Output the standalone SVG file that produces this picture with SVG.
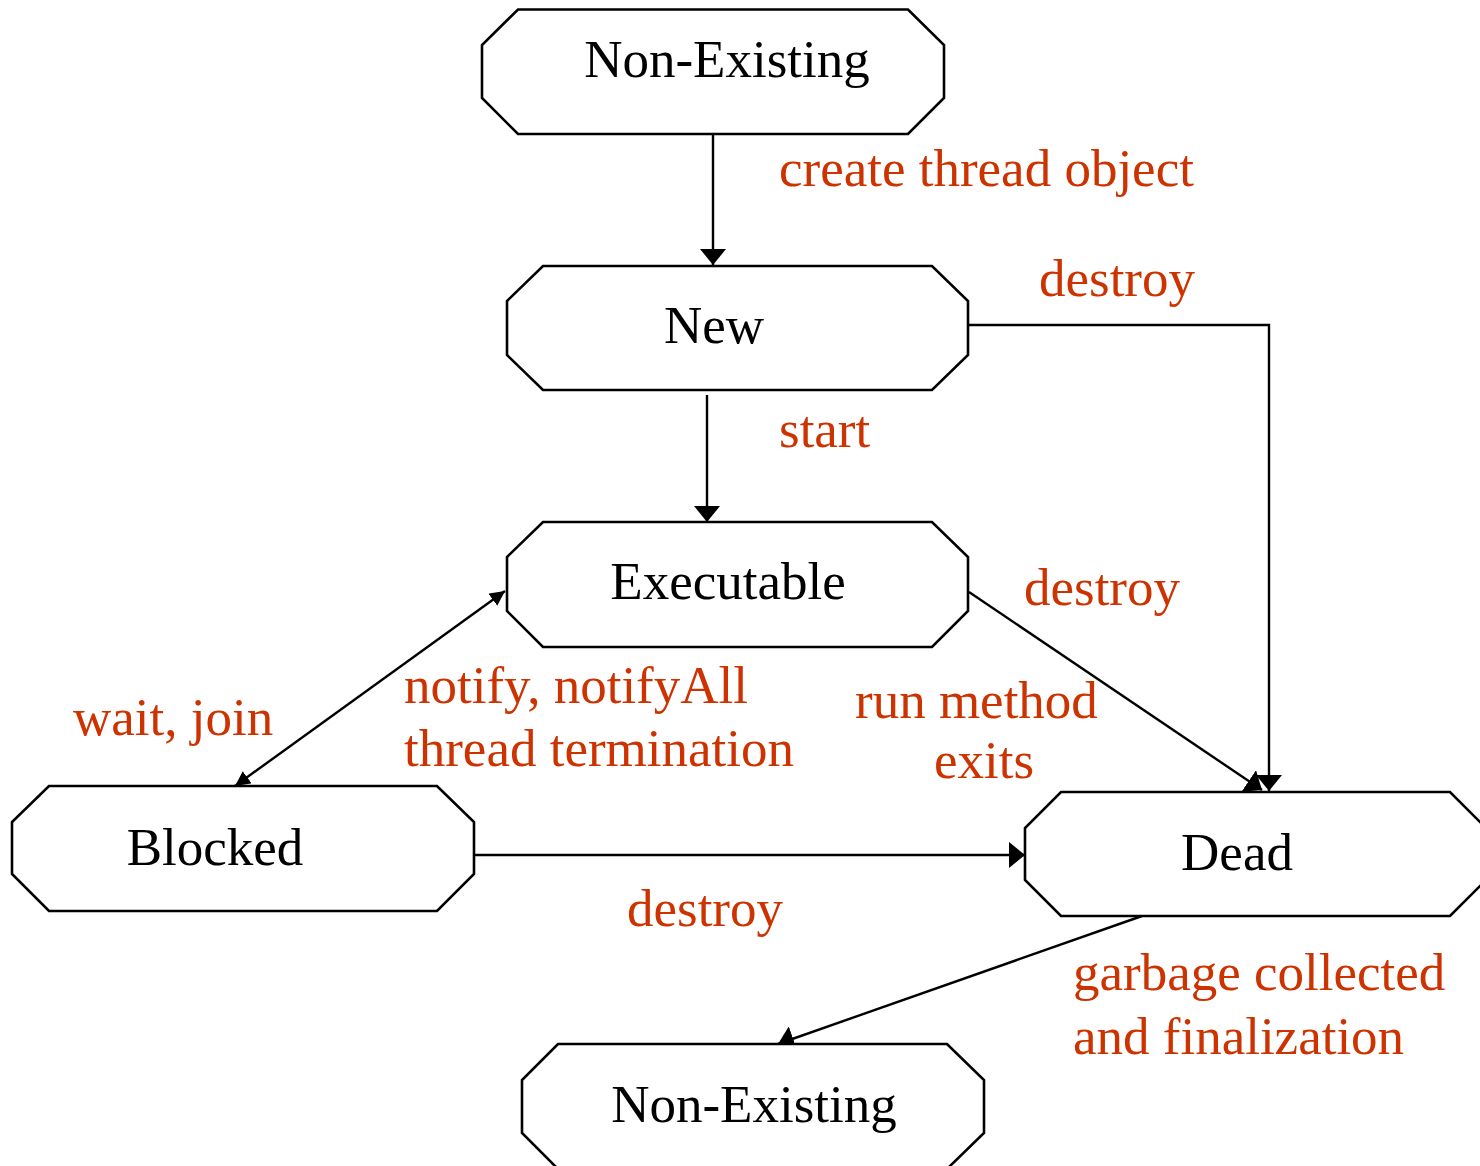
<svg xmlns="http://www.w3.org/2000/svg" width="1480" height="1166" viewBox="0 0 1480 1166">
<style>
.node{fill:#fff;stroke:#000;stroke-width:2.6;stroke-linejoin:miter}
.nt{font-family:"Liberation Serif","Times New Roman",serif;font-size:53px;fill:#000;text-anchor:middle}
.lb{font-family:"Liberation Serif","Times New Roman",serif;font-size:53px;fill:#CC3300}
.ln{fill:none;stroke:#000;stroke-width:2.4}
</style>
<defs>
<marker id="big" markerUnits="userSpaceOnUse" markerWidth="18" markerHeight="26" refX="16" refY="13" orient="auto" viewBox="0 0 18 26">
<path d="M0,0 L16,13 L0,26 z" fill="#000"/>
</marker>
<marker id="sm" markerUnits="userSpaceOnUse" markerWidth="16" markerHeight="15" refX="15" refY="7.5" orient="auto" viewBox="0 0 16 15">
<path d="M0,0 L15,7.5 L0,15 z" fill="#000"/>
</marker>
<marker id="smr" markerUnits="userSpaceOnUse" markerWidth="16" markerHeight="15" refX="15" refY="7.5" orient="auto-start-reverse" viewBox="0 0 16 15">
<path d="M0,0 L15,7.5 L0,15 z" fill="#000"/>
</marker>
</defs>

<g id="connectors">
<line class="ln" x1="713" y1="134" x2="713" y2="265" marker-end="url(#big)"/>
<line class="ln" x1="707" y1="395" x2="707" y2="522" marker-end="url(#big)"/>
<polyline class="ln" points="963,325 1269,325 1269,791" marker-end="url(#big)"/>
<line class="ln" x1="969" y1="592" x2="1262" y2="790" marker-end="url(#big)"/>
<line class="ln" x1="505" y1="591" x2="235" y2="786" marker-start="url(#smr)" marker-end="url(#sm)"/>
<line class="ln" x1="472" y1="855" x2="1025" y2="855" marker-end="url(#big)"/>
<line class="ln" x1="1142" y1="916" x2="778" y2="1044" marker-end="url(#big)"/>
</g>

<g id="node-nonexisting-top">
<polygon class="node" points="518,9.5 908,9.5 944,45 944,98 908,134 518,134 482,98 482,45"/>
<text class="nt" x="727" y="77">Non-Existing</text>
</g>
<g id="node-new">
<polygon class="node" points="543,266 932,266 968,301 968,355 932,390 543,390 507,355 507,301"/>
<text class="nt" x="714" y="343">New</text>
</g>
<g id="node-executable">
<polygon class="node" points="543,522 932,522 968,557 968,611 932,647 543,647 507,611 507,557"/>
<text class="nt" x="728" y="599">Executable</text>
</g>
<g id="node-blocked">
<polygon class="node" points="49,786 437,786 474,822 474,874 437,911 49,911 12,874 12,822"/>
<text class="nt" x="215" y="865">Blocked</text>
</g>
<g id="node-dead">
<polygon class="node" points="1061,792 1450,792 1486,828 1486,880 1450,916 1061,916 1025,880 1025,828"/>
<text class="nt" x="1237" y="870">Dead</text>
</g>
<g id="node-nonexisting-bottom">
<polygon class="node" points="558,1044 947,1044 984,1080 984,1133 947,1169 558,1169 522,1133 522,1080"/>
<text class="nt" x="754" y="1122">Non-Existing</text>
</g>

<g id="labels">
<text class="lb" x="779" y="186">create thread object</text>
<text class="lb" x="1039" y="296">destroy</text>
<text class="lb" x="779" y="447">start</text>
<text class="lb" x="1024" y="605">destroy</text>
<text class="lb" x="404" y="703">notify, notifyAll</text>
<text class="lb" x="404" y="766">thread termination</text>
<text class="lb" x="73" y="735">wait, join</text>
<text class="lb" x="855" y="718">run method</text>
<text class="lb" x="934" y="778">exits</text>
<text class="lb" x="627" y="926">destroy</text>
<text class="lb" x="1073" y="990">garbage collected</text>
<text class="lb" x="1073" y="1054">and finalization</text>
</g>
</svg>
